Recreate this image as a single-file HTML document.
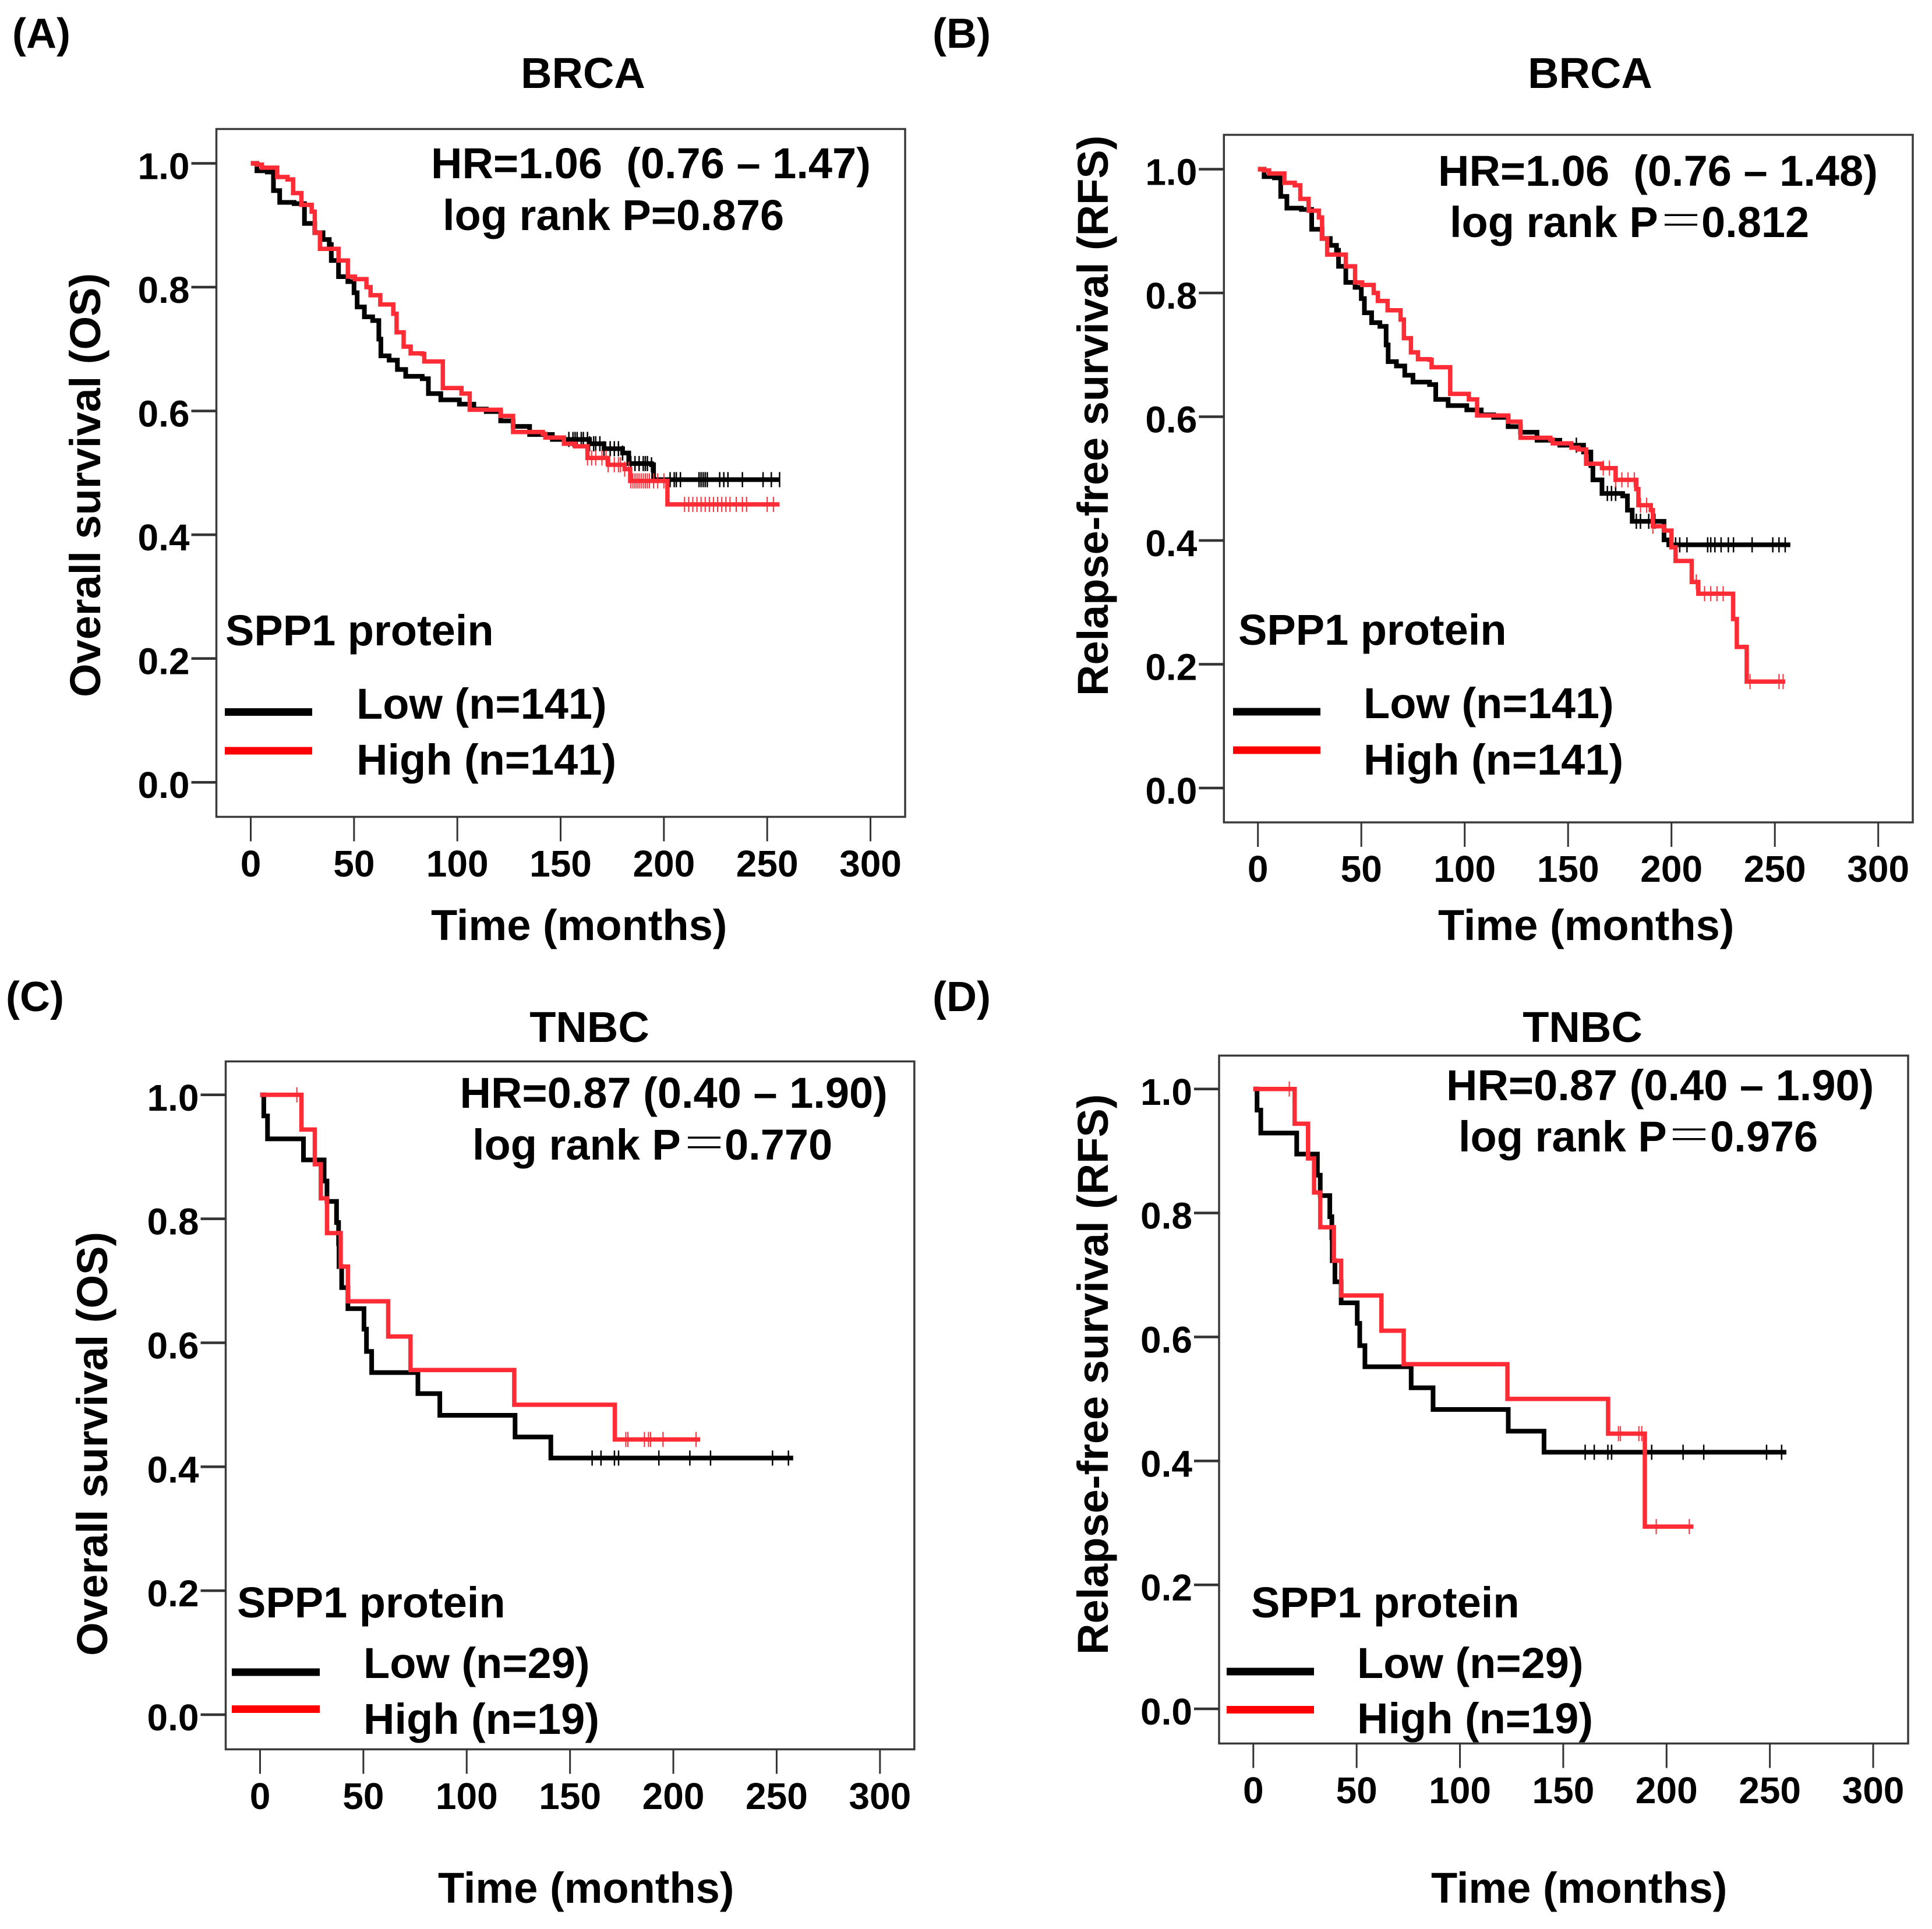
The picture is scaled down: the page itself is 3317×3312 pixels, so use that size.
<!DOCTYPE html>
<html lang="en">
<head>
<meta charset="utf-8">
<title>SPP1 protein survival curves</title>
<style>
html,body{margin:0;padding:0;background:#fff;}
svg{display:block;}
text{font-family:"Liberation Sans","Noto Sans CJK SC",sans-serif;font-weight:bold;font-size:74px;fill:#000;}
.eq{font-family:"Noto Serif CJK SC","Liberation Serif",serif;font-weight:400;font-size:80px;}
</style>
</head>
<body>
<svg id="figure" xmlns="http://www.w3.org/2000/svg" width="3317" height="3312" viewBox="0 0 3317 3312">
<rect x="0" y="0" width="3317" height="3312" fill="#fff"/>

<g id="panelA">
  <text x="21" y="82" style="font-size:72px">(A)</text>
  <text x="1001" y="151" text-anchor="middle">BRCA</text>
  <text x="740" y="306" xml:space="preserve">HR=1.06  (0.76 – 1.47)</text>
  <text x="760" y="395">log rank P=0.876</text>
  <text x="387" y="1108">SPP1 protein</text>
  <rect x="386" y="1216" width="150" height="13" fill="#000"/>
  <rect x="386" y="1282.5" width="150" height="13" fill="#f00"/>
  <text x="612" y="1234">Low (n=141)</text>
  <text x="612" y="1330">High (n=141)</text>
  <text x="740" y="1614">Time (months)</text>
  <text transform="translate(172,1197) rotate(-90)">Overall survival (OS)</text>
</g>

<g id="panelB">
  <text x="1601" y="82" style="font-size:72px">(B)</text>
  <text x="2730" y="151" text-anchor="middle">BRCA</text>
  <text x="2469" y="319" xml:space="preserve">HR=1.06  (0.76 – 1.48)</text>
  <text x="2489" y="407">log rank P<tspan class="eq" x="2846">＝</tspan><tspan x="2921">0.812</tspan></text>
  <text x="2126" y="1107">SPP1 protein</text>
  <rect x="2117" y="1215.5" width="150" height="13" fill="#000"/>
  <rect x="2117" y="1281.5" width="150" height="13" fill="#f00"/>
  <text x="2341" y="1233">Low (n=141)</text>
  <text x="2341" y="1330">High (n=141)</text>
  <text x="2469" y="1614">Time (months)</text>
  <text transform="translate(1902,1195) rotate(-90)">Relapse-free survival (RFS)</text>
</g>

<g id="panelC">
  <text x="10" y="1736" style="font-size:72px">(C)</text>
  <text x="1012" y="1789" text-anchor="middle">TNBC</text>
  <text x="789.5" y="1902">HR=0.87 (0.40 – 1.90)</text>
  <text x="811" y="1991">log rank P<tspan class="eq" x="1169">＝</tspan><tspan x="1244">0.770</tspan></text>
  <text x="407" y="2777">SPP1 protein</text>
  <rect x="398" y="2864.5" width="151" height="13" fill="#000"/>
  <rect x="398" y="2928" width="151" height="13" fill="#f00"/>
  <text x="624" y="2881">Low (n=29)</text>
  <text x="624" y="2977">High (n=19)</text>
  <text x="752" y="3267">Time (months)</text>
  <text transform="translate(184,2843) rotate(-90)">Overall survival (OS)</text>
</g>

<g id="panelD">
  <text x="1601" y="1736" style="font-size:72px">(D)</text>
  <text x="2717" y="1789" text-anchor="middle">TNBC</text>
  <text x="2483" y="1889">HR=0.87 (0.40 – 1.90)</text>
  <text x="2504" y="1977">log rank P<tspan class="eq" x="2860">＝</tspan><tspan x="2936">0.976</tspan></text>
  <text x="2148" y="2777">SPP1 protein</text>
  <rect x="2106" y="2863.5" width="150" height="13" fill="#000"/>
  <rect x="2106" y="2929" width="150" height="13" fill="#f00"/>
  <text x="2330" y="2881">Low (n=29)</text>
  <text x="2330" y="2976">High (n=19)</text>
  <text x="2457" y="3267">Time (months)</text>
  <text transform="translate(1902,2841) rotate(-90)">Relapse-free survival (RFS)</text>
</g>
</svg>

<script>
// Tick values
var xTicks = [0, 50, 100, 150, 200, 250, 300];
var yTicks = [0, 0.2, 0.4, 0.6, 0.8, 1.0];
var yTickLabels = ["0.0", "0.2", "0.4", "0.6", "0.8", "1.0"];

// Panel A: BRCA overall survival
var aLowTime = [0,3,8,11,14,21,26,31,35,38,39,42.5,47,50,51.5,55,59,62,63,67,71,75,83,86,92,101,108,114,121,127,135,146,157,164,171,180,183,194,195];
var aLowSurv = [1,.988,.986,.956,.937,.935,.903,.888,.877,.869,.843,.817,.809,.791,.768,.752,.746,.716,.689,.682,.667,.656,.652,.628,.618,.611,.603,.599,.584,.575,.562,.554,.554,.547,.539,.532,.515,.513,.489];
var aLowEnd = 256;
var aLowCensor = [154,156,157,158,160,161,163,164,166,167,169,171,174,176,178,180,184,186,188,190,191,192,194,203,205,206,208,217,218,219,220,221,227,229,231,238,248,252,256];
var aHighTime = [0,3,5.4,12.8,14.4,17.8,20.5,24.5,29.5,31,33.5,37,42.5,47,50.4,56,58,62.7,69,70.6,74,77.4,83,84,90.4,93,102,106,116.7,121,127,141.4,142.6,151.6,157,163,173,181,183.7,200,201.7];
var aHighSurv = [1,.998,.993,.978,.978,.974,.952,.933,.922,.888,.862,.862,.843,.817,.813,.8,.787,.772,.757,.727,.704,.693,.692,.68,.68,.637,.628,.602,.602,.592,.566,.563,.557,.547,.543,.524,.513,.506,.487,.487,.449];
var aHighEnd = 256;
var aHighCensor = [163,165,167,170,172,173,176,178,179,181,183,184,185,186,187,188,189,190,191,192,193,195,197,200,210,212,214,216,218,220,222,224,226,228,230,232,235,238,240,250,253];

// Panel B: BRCA relapse-free survival
var bLowTime = [0,3,8,11,14,21,26,31,35,38,39,42.5,47,50,51.5,55,59,62,63,67,71,75,83,86,92,101,108,114,121,127,135,146,157.5,161,162,166.4,176.4,178.7,181,193,196.4,198.7];
var bLowSurv = [1,.988,.986,.956,.937,.935,.903,.888,.877,.869,.843,.817,.809,.791,.768,.752,.746,.716,.689,.682,.667,.656,.652,.628,.618,.611,.603,.599,.584,.575,.562,.554,.543,.521,.498,.476,.472,.449,.431,.431,.401,.393];
var bLowEnd = 257.5;
var bLowCensor = [154,169,171,173,183,185,189,192,202,204,207.5,217.5,219,221,224,227.5,230,239,249,252,255];
var bHighTime = [0,3,5.4,12.8,14.4,17.8,20.5,24.5,29.5,31,33.5,37,42.5,47,50.4,56,58,62.7,69,70.6,74,77.4,83,84,90.4,93,102,106,116.7,121,127,141.4,142.6,151.6,155,158.7,166.4,173,183,184,190,191,196.4,200,202,208.7,209.8,213,228.7,229.8,231.6,236.4];
var bHighSurv = [1,.998,.993,.978,.978,.974,.952,.933,.922,.888,.862,.862,.843,.817,.813,.8,.787,.772,.757,.727,.704,.693,.692,.68,.68,.637,.628,.602,.602,.592,.566,.563,.557,.55,.547,.524,.517,.498,.483,.457,.449,.423,.416,.389,.367,.367,.333,.314,.314,.273,.228,.172];
var bHighEnd = 255;
var bHighCensor = [167,170,173,176,179,182,185,188,191,212,216,219,222,225,238,252,254];

// Panel C: TNBC overall survival
var cLowTime = [0,1.8,3.6,21,31,32.4,37,38,38.2,39.5,42.5,50.3,51.5,54,76.4,87,123.4,140.7];
var cLowSurv = [1,.966,.929,.895,.861,.828,.794,.76,.723,.689,.655,.622,.586,.552,.518,.483,.448,.414];
var cLowEnd = 258;
var cLowCensor = [160.7,165,171.5,173.5,193,208,218,248,255.7];
var cHighTime = [0,20,26.5,29.4,32.4,39,42.5,62,72.8,123,171.7];
var cHighSurv = [1,.944,.888,.833,.777,.723,.667,.61,.556,.5,.444];
var cHighEnd = 213;
var cHighCensor = [17.8,177,178,186,188,189,195,211];

// Panel D: TNBC relapse-free survival
var dLowTime = [0,1.8,3.6,21,31,32.4,37,38,38.2,39.5,42.5,50.3,51.5,54,76.4,87,123.4,140.7];
var dLowSurv = [1,.966,.929,.895,.861,.828,.794,.76,.723,.689,.655,.622,.586,.552,.518,.483,.448,.414];
var dLowEnd = 258;
var dLowCensor = [160.6,165,171.6,173.4,192.8,208,218,248.4,255.7];
var dHighTime = [0,20,26.5,29.4,32.4,39,42.5,62,72.8,123,171.7,189.5];
var dHighSurv = [1,.944,.888,.833,.777,.723,.667,.61,.556,.5,.444,.294];
var dHighEnd = 213;
var dHighCensor = [17.4,176.7,177.6,186.6,188,195,211];

var SVG_NS = 'http://www.w3.org/2000/svg';

function make(tag, attrs, parent) {
  var el = document.createElementNS(SVG_NS, tag);
  for (var k in attrs) el.setAttribute(k, attrs[k]);
  parent.appendChild(el);
  return el;
}

function survivalAt(times, survs, t) {
  var s = survs[0];
  for (var i = 0; i < times.length; i++) { if (times[i] <= t) s = survs[i]; }
  return s;
}

function drawSeries(g, xScale, yScale, times, survs, end, censors, color, width, tickW, seriesName) {
  var d = 'M' + xScale(times[0]) + ' ' + yScale(survs[0]);
  for (var i = 1; i < times.length; i++) {
    d += 'H' + xScale(times[i]).toFixed(1) + 'V' + yScale(survs[i]).toFixed(1);
  }
  d += 'H' + xScale(end).toFixed(1);
  var line = make('path', {d: d, fill: 'none', stroke: color, 'stroke-width': width, 'stroke-linejoin': 'miter'}, g);
  
  
  censors.forEach(function (t) {
    var y = yScale(survivalAt(times, survs, t));
    var x = xScale(t);
    var mark = make('line', {x1: x, x2: x, y1: y - 13, y2: y + 13, stroke: color, 'stroke-width': tickW}, g);
    
    
  });
}

function drawPanel(p) {
  var g = document.getElementById(p.id);
  var xScale = function (v) { return p.x0 + (v / 300) * (p.x300 - p.x0); };
  var yScale = function (v) { return p.y0 + v * (p.y1 - p.y0); };

  var frame = make('rect', {x: p.left, y: p.top, width: p.right - p.left, height: p.bottom - p.top, fill: 'none', stroke: '#3a3a3a', 'stroke-width': 3.5}, g);
  
  

  xTicks.forEach(function (v) {
    var x = xScale(v);
    var t = make('line', {x1: x, x2: x, y1: p.bottom, y2: p.bottom + 42, stroke: '#333', 'stroke-width': 3}, g);
    
    
    var l = make('text', {x: x, y: p.xLabelY, 'text-anchor': 'middle', style: 'font-size:64px'}, g);
    l.textContent = String(v);
    
    
  });

  yTicks.forEach(function (v, i) {
    var y = yScale(v);
    var t = make('line', {x1: p.left - 43, x2: p.left, y1: y, y2: y, stroke: '#333', 'stroke-width': 4.5}, g);
    
    
    var l = make('text', {x: p.left - 46, y: y + 27, 'text-anchor': 'end', style: 'font-size:64px'}, g);
    l.textContent = yTickLabels[i];
    
    
  });

  drawSeries(g, xScale, yScale, p.lowTime, p.lowSurv, p.lowEnd, p.lowCensor, '#000', 8, 2.5, p.name + '-low');
  drawSeries(g, xScale, yScale, p.highTime, p.highSurv, p.highEnd, p.highCensor, '#ff2b35', 7.5, 2, p.name + '-high');
}

drawPanel({id: 'panelA', name: 'panel-a', left: 371.5, right: 1554, top: 221.5, bottom: 1402.5, x0: 430.5, x300: 1494.5, y0: 1343.2, y1: 280.5,
  xLabelY: 1505, lowTime: aLowTime, lowSurv: aLowSurv, lowEnd: aLowEnd, lowCensor: aLowCensor, highTime: aHighTime, highSurv: aHighSurv, highEnd: aHighEnd, highCensor: aHighCensor});
drawPanel({id: 'panelB', name: 'panel-b', left: 2101.3, right: 3284, top: 231.5, bottom: 1412, x0: 2159.7, x300: 3224.7, y0: 1353, y1: 290.5,
  xLabelY: 1514, lowTime: bLowTime, lowSurv: bLowSurv, lowEnd: bLowEnd, lowCensor: bLowCensor, highTime: bHighTime, highSurv: bHighSurv, highEnd: bHighEnd, highCensor: bHighCensor});
drawPanel({id: 'panelC', name: 'panel-c', left: 387.5, right: 1569.8, top: 1822.4, bottom: 3003.5, x0: 446.5, x300: 1510.8, y0: 2944, y1: 1879.8,
  xLabelY: 3106, lowTime: cLowTime, lowSurv: cLowSurv, lowEnd: cLowEnd, lowCensor: cLowCensor, highTime: cHighTime, highSurv: cHighSurv, highEnd: cHighEnd, highCensor: cHighCensor});
drawPanel({id: 'panelD', name: 'panel-d', left: 2093, right: 3276, top: 1812.4, bottom: 2993.5, x0: 2151.8, x300: 3216, y0: 2934, y1: 1869.8,
  xLabelY: 3096, lowTime: dLowTime, lowSurv: dLowSurv, lowEnd: dLowEnd, lowCensor: dLowCensor, highTime: dHighTime, highSurv: dHighSurv, highEnd: dHighEnd, highCensor: dHighCensor});
</script>
</body>
</html>
